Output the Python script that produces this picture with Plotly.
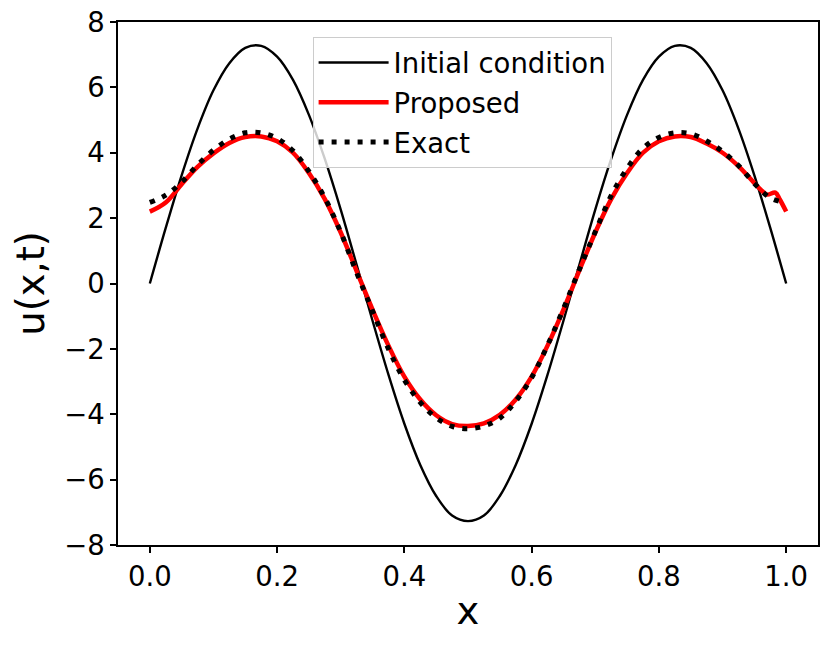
import plotly.graph_objects as go

# grid used for the initial condition and the exact solution
x_grid = [round(0.025 * i, 3) for i in range(41)]

u_initial = [0.00, 1.70, 3.31, 4.74, 5.91, 6.74, 7.21, 7.27, 6.94, 6.23,
             5.16, 3.81, 2.26, 0.57, -1.14, -2.79, -4.29, -5.55, -6.50, -7.10,
             -7.27, -7.10, -6.50, -5.55, -4.29, -2.79, -1.14, 0.57, 2.26, 3.81,
             5.16, 6.23, 6.94, 7.27, 7.21, 6.74, 5.91, 4.74, 3.31, 1.70, 0.00]

u_exact = [2.48, 2.70, 3.10, 3.63, 4.08, 4.42, 4.61, 4.61, 4.44, 4.06,
           3.43, 2.62, 1.57, 0.33, -0.84, -2.00, -2.95, -3.64, -4.11, -4.37,
           -4.44, -4.36, -4.12, -3.60, -2.88, -1.89, -0.77, 0.43, 1.58, 2.69,
           3.52, 4.14, 4.47, 4.61, 4.58, 4.36, 4.04, 3.61, 3.06, 2.62, 2.47]

# proposed solution, a bit finer near the right boundary wiggle
x_prop = x_grid[:39] + [0.96, 0.97, 0.983, 0.99, 1.0]
u_prop = [2.20, 2.48, 3.04, 3.57, 3.98, 4.30, 4.48, 4.50, 4.35, 4.00,
          3.38, 2.58, 1.56, 0.38, -0.80, -1.90, -2.85, -3.55, -4.03, -4.30,
          -4.36, -4.28, -4.02, -3.55, -2.85, -1.90, -0.80, 0.40, 1.56, 2.58,
          3.38, 4.00, 4.35, 4.50, 4.48, 4.28, 4.00, 3.59, 3.07,
          2.87, 2.72, 2.78, 2.57, 2.20]

x_ticks = [0.0, 0.2, 0.4, 0.6, 0.8, 1.0]
y_ticks = [-8, -6, -4, -2, 0, 2, 4, 6, 8]

FONT = "DejaVu Sans"

fig = go.Figure()
fig.add_trace(go.Scatter(
   x=x_grid, y=u_initial, mode="lines", name="Initial condition",
   legendgroup="a", line=dict(color="black", width=2.4, shape="spline")))
fig.add_trace(go.Scatter(
   x=x_prop, y=u_prop, mode="lines", name="Proposed",
   legendgroup="b", line=dict(color="red", width=4.5, shape="spline")))
fig.add_trace(go.Scatter(
   x=x_grid, y=u_exact, mode="lines", name="Exact",
   legendgroup="c", line=dict(color="black", width=5, shape="spline", dash="5px,8px")))

axis_common = dict(
   showline=True, linecolor="black", linewidth=1.5, mirror=True,
   ticks="outside", ticklen=6, tickwidth=1.5, tickcolor="black",
   showgrid=False, zeroline=False, automargin=False,
   ticklabeloverflow="allow",
   tickfont=dict(family=FONT, size=27.5, color="black"),
)

fig.update_xaxes(range=[-0.05, 1.05], tickvals=x_ticks, tickformat=".1f",
                 title=dict(text="x", font=dict(family=FONT, size=38.5, color="black"), standoff=6),
                 **axis_common)
fig.update_yaxes(range=[-8, 8], tickvals=y_ticks,
                 title=dict(text="u(x,t)", font=dict(family=FONT, size=38.5, color="black"), standoff=8),
                 **axis_common)

fig.update_layout(
   width=831, height=649,
   margin=dict(l=118, r=13, t=22, b=104),
   plot_bgcolor="white", paper_bgcolor="white",
   font=dict(family=FONT, color="black"),
   legend=dict(x=0.278, y=0.971, xanchor="left", yanchor="top",
               bgcolor="rgba(255,255,255,0.8)", bordercolor="#cccccc", borderwidth=1,
               font=dict(family=FONT, size=27.5, color="black"),
               tracegroupgap=1, itemwidth=70),
)

# drop the default 8px page margin so the figure fills the window
fig.write_html("out.html", config={"displayModeBar": False},
               post_script="document.body.style.margin='0';")
